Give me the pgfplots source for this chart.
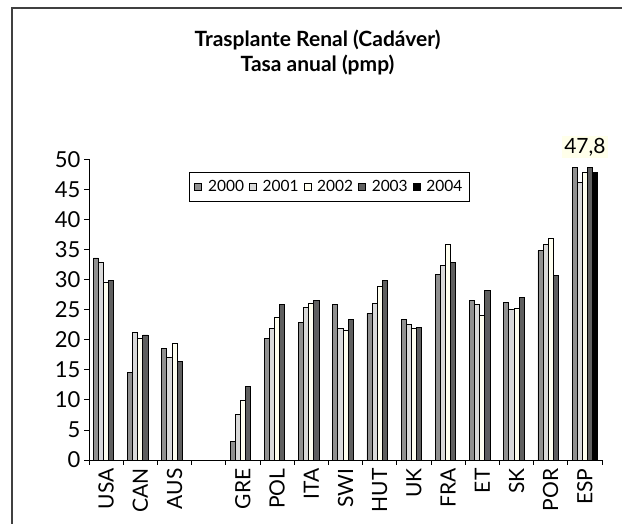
\documentclass[border=0pt]{standalone}
\usepackage{pgfplots}
\pgfplotsset{compat=1.18}
\usepackage{pgfplotstable}
\usepackage{fontspec}
\setmainfont{Lato}
\definecolor{c2000}{HTML}{909090}
\definecolor{c2001}{HTML}{D9D9D9}
\definecolor{c2002}{HTML}{FFFFF0}
\definecolor{c2003}{HTML}{5F5F5F}
\definecolor{c2004}{HTML}{000000}
\definecolor{lblbg}{HTML}{FFFFEA}
\pgfplotstableread{
x y2000 y2001 y2002 y2003
0 33.6 32.9 29.6 29.8
1 14.5 21.2 20.2 20.8
2 18.5 17.0 19.4 16.4
4 3.1 7.6 9.9 12.2
5 20.2 21.8 23.7 25.8
6 22.8 25.3 26.1 26.6
7 25.8 21.9 21.6 23.3
8 24.4 26.0 28.9 29.9
9 23.3 22.5 21.9 22.1
10 30.9 32.3 35.8 32.8
11 26.5 25.8 24.1 28.2
12 26.2 25.1 25.2 27.0
13 34.8 35.9 36.9 30.7
14 48.6 46.1 47.8 48.6
}\datamain
\pgfplotstableread{
x y2004
14 47.8
}\datafour
\begin{document}
\begin{tikzpicture}[x=1pt,y=1pt]
\useasboundingbox (0,0) rectangle (622,524);
\draw[line width=1.6pt,color=black!75] (12,0) -- (12,516) -- (622,516);
\node[align=center,font=\fontsize{21}{25}\selectfont\bfseries] at (317.5,471) {Trasplante Renal (Cadáver)\\Tasa anual (pmp)};
\begin{axis}[
  at={(89pt,64pt)}, anchor=south west,
  scale only axis, width=513pt, height=300.7pt,
  xmin=-0.5, xmax=14.5, ymin=0, ymax=50,
  axis lines*=left,
  axis line style={line width=0.9pt, -},
  ybar, bar width=5.1pt,
  xtick={0,...,14},
  xticklabels={USA,CAN,AUS,,GRE,POL,ITA,SWI,HUT,UK,FRA,ET,SK,POR,ESP},
  major x tick style={draw=none},
  minor xtick={-0.5,0.5,...,14.5},
  minor x tick style={line width=0.8pt, black},
  minor tick length=5pt,
  xtick align=outside,
  x tick label style={rotate=90, anchor=east, font=\fontsize{21}{23}\selectfont},
  ytick={0,5,...,50},
  ytick align=outside,
  major y tick style={line width=0.8pt, black},
  major tick length=5pt,
  y tick label style={font=\fontsize{22}{24}\selectfont},
  /pgf/number format/assume math mode=true,
  clip=false,
  legend columns=5,
  legend style={at={(0.195,0.958)}, anchor=north west, draw=black, line width=0.9pt,
    font=\fontsize{15.5}{17}\selectfont, inner xsep=5pt, inner ysep=6pt,
    /tikz/every odd column/.append style={column sep=4pt},
    /tikz/every even column/.append style={column sep=3pt}},
  legend image code/.code={\draw[#1, line width=0.6pt] (0pt,-3.5pt) rectangle (7pt,3.5pt);},
  every axis plot/.append style={draw=black, line width=0.8pt},
]
\addplot[fill=c2000, bar shift=-10.2pt] table[x=x,y=y2000]{\datamain};
\addplot[fill=c2001, bar shift=-5.1pt] table[x=x,y=y2001]{\datamain};
\addplot[fill=c2002, bar shift=0pt] table[x=x,y=y2002]{\datamain};
\addplot[fill=c2003, bar shift=5.1pt] table[x=x,y=y2003]{\datamain};
\addplot[fill=c2004, bar shift=10.2pt] table[x=x,y=y2004]{\datafour};
\legend{2000,2001,2002,2003,2004}
\node[fill=lblbg, font=\fontsize{21}{23}\selectfont, inner sep=2pt] at (axis cs:14,52) {47,8};
\end{axis}
\end{tikzpicture}
\end{document}
